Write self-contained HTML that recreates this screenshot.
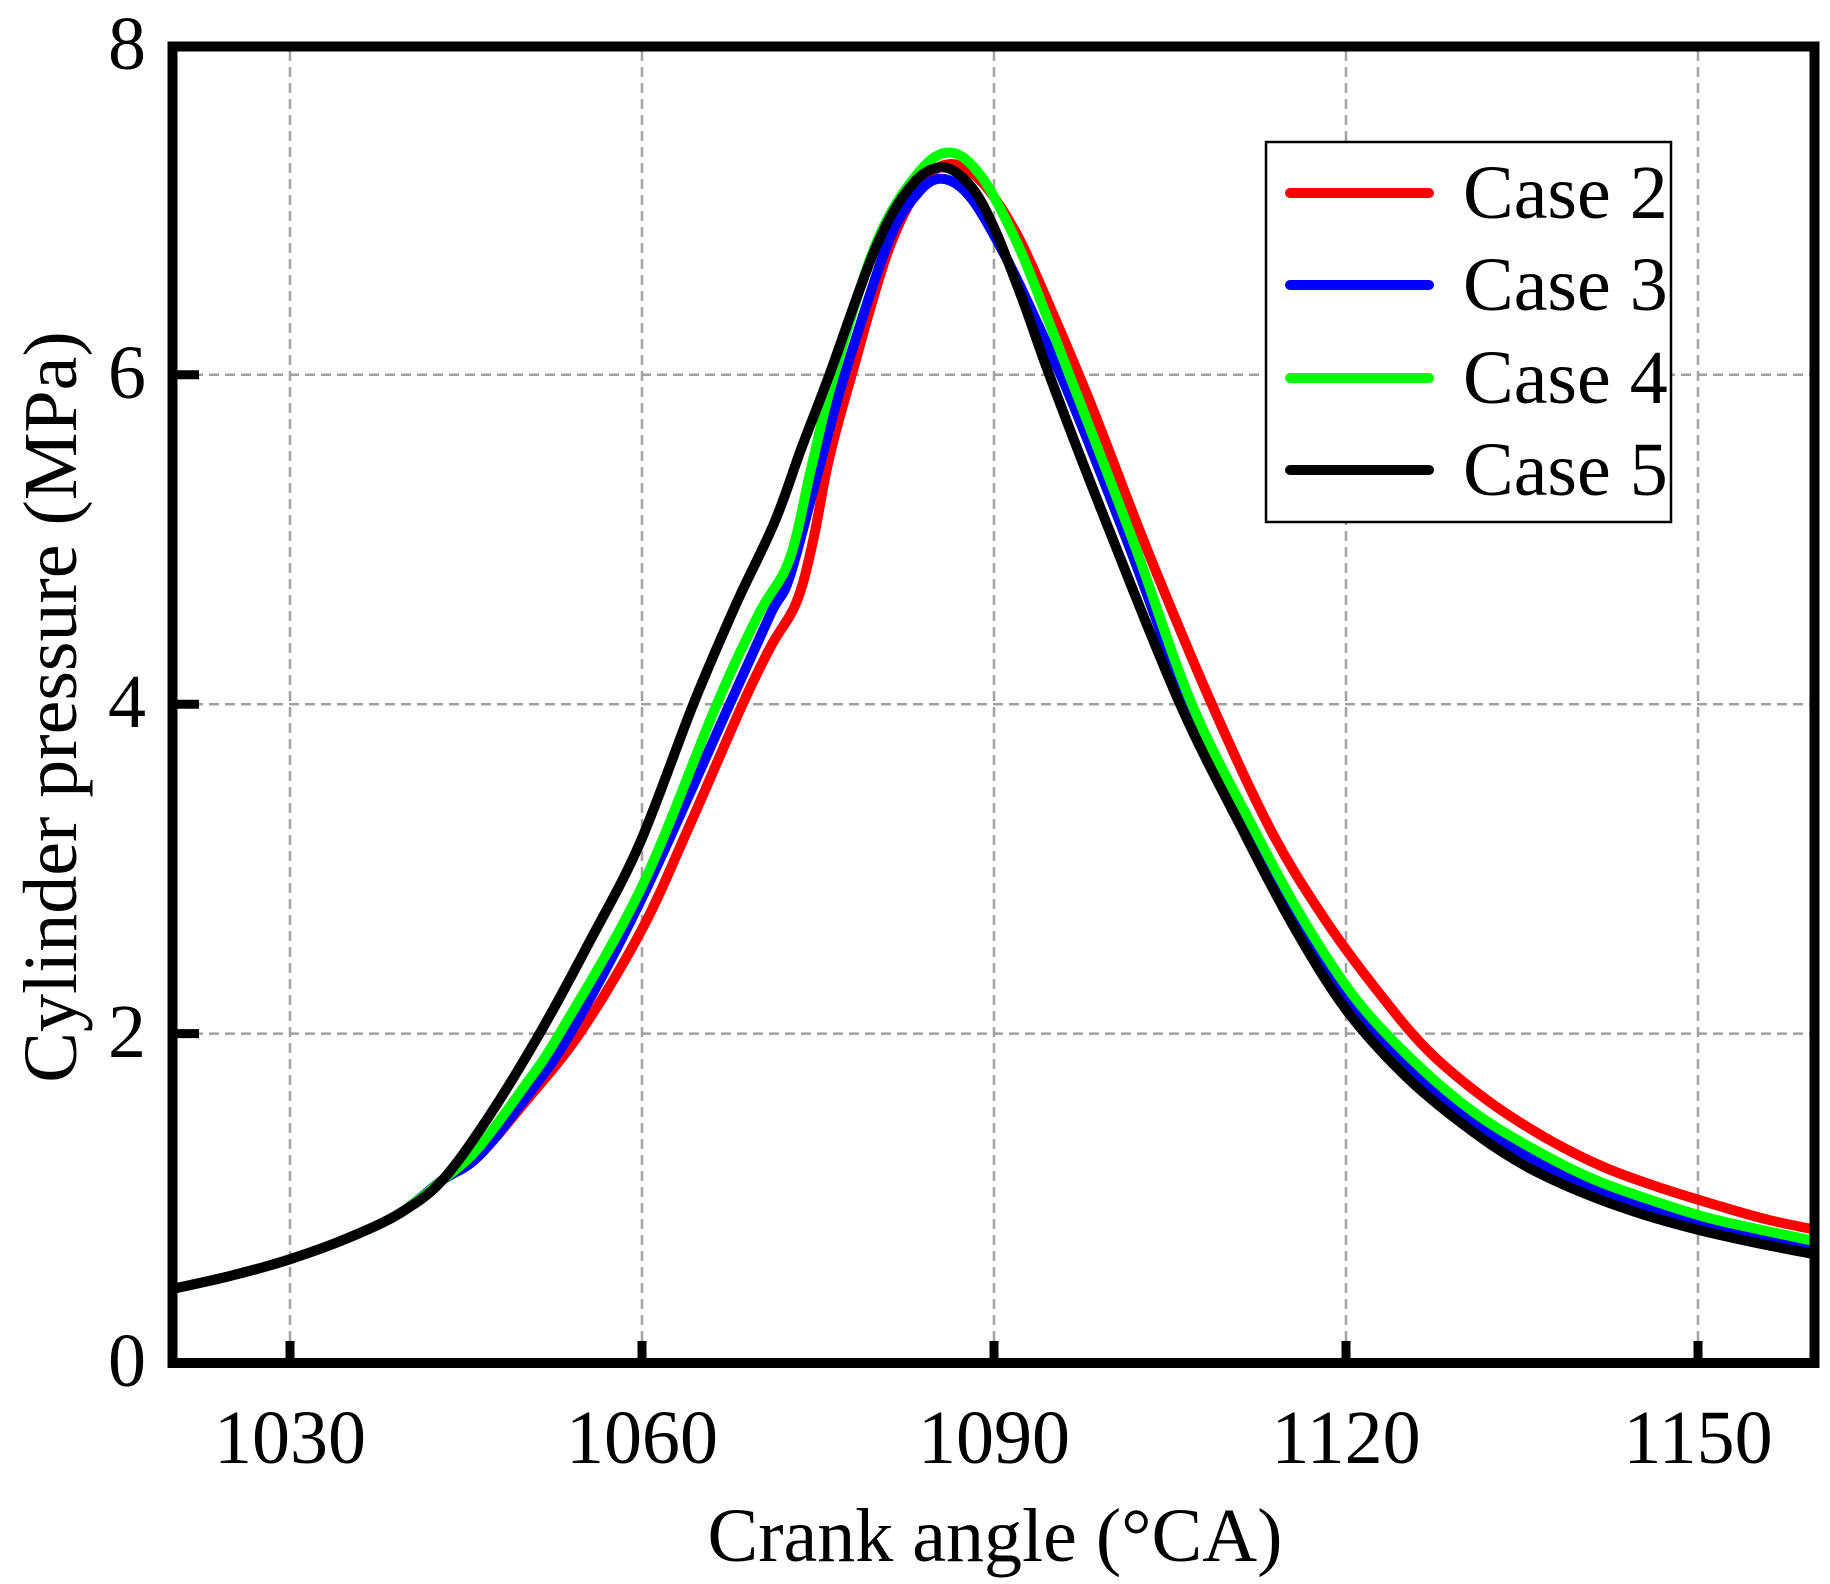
<!DOCTYPE html>
<html><head><meta charset="utf-8"><style>
html,body{margin:0;padding:0;background:#fff;}
svg{display:block;}
text{font-family:"Liberation Serif",serif;fill:#000;}
</style></head><body>
<svg id="s" width="1830" height="1584" viewBox="0 0 1830 1584" xmlns="http://www.w3.org/2000/svg">
<defs><clipPath id="c"><rect x="172" y="46" width="1642" height="1317"/></clipPath></defs>
<g stroke="#a0a0a0" stroke-width="2.5" stroke-dasharray="10,6" fill="none">
<line x1="290" y1="51" x2="290" y2="1358"/>
<line x1="642" y1="51" x2="642" y2="1358"/>
<line x1="994" y1="51" x2="994" y2="1358"/>
<line x1="1346" y1="51" x2="1346" y2="1358"/>
<line x1="1698" y1="51" x2="1698" y2="1358"/>
<line x1="177" y1="1033.6" x2="1810" y2="1033.6"/>
<line x1="177" y1="704.2" x2="1810" y2="704.2"/>
<line x1="177" y1="374.8" x2="1810" y2="374.8"/>
</g>
<g id="curves" clip-path="url(#c)" fill="none" stroke-width="10" stroke-linecap="round" stroke-linejoin="round"></g>
<g stroke="#000" stroke-width="9">
<line x1="290" y1="1363" x2="290" y2="1341"/>
<line x1="642" y1="1363" x2="642" y2="1341"/>
<line x1="994" y1="1363" x2="994" y2="1341"/>
<line x1="1346" y1="1363" x2="1346" y2="1341"/>
<line x1="1698" y1="1363" x2="1698" y2="1341"/>
<line x1="172" y1="1033.6" x2="199" y2="1033.6"/>
<line x1="172" y1="704.2" x2="199" y2="704.2"/>
<line x1="172" y1="374.8" x2="199" y2="374.8"/>
</g>
<rect x="172.5" y="46.5" width="1642" height="1316.5" fill="none" stroke="#000" stroke-width="10"/>
<rect x="1266" y="142" width="405" height="380" fill="#fff" stroke="#000" stroke-width="2.5"/>
<g stroke-width="10" stroke-linecap="round">
<line x1="1290" y1="193" x2="1429" y2="193" stroke="#ff0000"/>
<line x1="1290" y1="285" x2="1429" y2="285" stroke="#0000ff"/>
<line x1="1290" y1="378" x2="1429" y2="378" stroke="#00ff00"/>
<line x1="1290" y1="470" x2="1429" y2="470" stroke="#000"/>
</g>
<g font-size="76">
<text x="1463" y="218">Case 2</text>
<text x="1463" y="310">Case 3</text>
<text x="1463" y="403">Case 4</text>
<text x="1463" y="495">Case 5</text>
</g>
<g font-size="76" text-anchor="middle">
<text x="290" y="1463">1030</text>
<text x="642" y="1463">1060</text>
<text x="994" y="1463">1090</text>
<text x="1346" y="1463">1120</text>
<text x="1698" y="1463">1150</text>
</g>
<g font-size="76" text-anchor="end">
<text x="146" y="1386">0</text>
<text x="146" y="1057">2</text>
<text x="146" y="727">4</text>
<text x="146" y="398">6</text>
<text x="146" y="69">8</text>
</g>
<text x="995" y="1561" font-size="76" text-anchor="middle">Crank angle (°CA)</text>
<text transform="translate(76,707) rotate(-90)" font-size="76" text-anchor="middle">Cylinder pressure (MPa)</text>
</svg>
<script>
var common=[[1020,.45],[1025,.53],[1030,.63],[1035,.76],[1039.4,.91],[1043,1.11]];
var data={
"#ff0000":[[1046,1.25],[1050,1.58],[1054.7,2.0],[1060,2.63],[1064,3.25],[1068.6,4.0],[1071,4.35],[1073.2,4.62],[1074.6,4.99],[1076,5.5],[1077.9,6.0],[1081,6.75],[1083.8,7.15],[1086.3,7.28],[1089,7.17],[1092,6.85],[1095,6.38],[1098.3,5.82],[1103.2,4.92],[1108.6,4.0],[1113.6,3.24],[1118,2.72],[1122.5,2.28],[1127,1.9],[1132,1.6],[1137,1.37],[1142,1.19],[1147,1.06],[1152,0.95],[1156,0.87],[1160,0.81]],
"#0000ff":[[1046,1.25],[1050,1.6],[1053.9,2.0],[1060,2.82],[1067.5,4.0],[1071,4.55],[1072.6,4.77],[1075,5.4],[1077.3,6.0],[1081,6.8],[1083.5,7.1],[1085.6,7.19],[1088,7.08],[1091,6.72],[1093.5,6.35],[1096.6,5.85],[1101.6,4.95],[1106.6,4.0],[1111.8,3.22],[1116.5,2.6],[1121,2.12],[1126,1.75],[1131,1.46],[1136,1.24],[1141,1.07],[1146,0.94],[1151,0.84],[1156,0.76],[1160,0.69]],
"#00ff00":[[1046,1.3],[1050,1.68],[1053,2.0],[1060,2.89],[1066.4,4.0],[1070,4.55],[1072.6,4.88],[1074.5,5.45],[1076.4,6.0],[1080,6.8],[1083.5,7.22],[1086.3,7.35],[1089,7.2],[1092,6.8],[1094.5,6.36],[1097,5.9],[1102,4.97],[1106.9,4.0],[1112.2,3.24],[1116.5,2.68],[1121,2.2],[1126,1.82],[1131,1.52],[1136,1.3],[1141,1.12],[1146,0.99],[1151,0.88],[1156,0.8],[1160,0.74]],
"#000000":[[1047,1.5],[1051.3,2.0],[1055.5,2.55],[1059.8,3.15],[1064.4,4.0],[1068,4.6],[1071.3,5.1],[1073.6,5.55],[1076,6.0],[1080,6.78],[1083,7.15],[1085.6,7.26],[1088,7.15],[1090,6.9],[1092.5,6.45],[1094.9,5.97],[1099.9,5.05],[1105.9,4.0],[1111.2,3.24],[1115.5,2.66],[1120,2.15],[1125,1.75],[1130,1.45],[1135,1.21],[1140,1.04],[1145,0.91],[1150,0.81],[1155,0.73],[1160,0.66]]
};
function X(x){return 172.5+(x-1020)*11.73;}
function Y(v){return 1363-v*164.7;}
var g=document.getElementById('curves');
for(var col in data){
 var p=common.concat(data[col]).map(function(a){return [X(a[0]),Y(a[1])];});
 var d='M'+p[0][0].toFixed(1)+','+p[0][1].toFixed(1);
 for(var i=0;i<p.length-1;i++){
  var p0=p[i>0?i-1:i],p1=p[i],p2=p[i+1],p3=p[i+2<p.length?i+2:i+1];
  var c1x=p1[0]+(p2[0]-p0[0])/6,c1y=p1[1]+(p2[1]-p0[1])/6;
  var c2x=p2[0]-(p3[0]-p1[0])/6,c2y=p2[1]-(p3[1]-p1[1])/6;
  d+=' C'+c1x.toFixed(1)+','+c1y.toFixed(1)+' '+c2x.toFixed(1)+','+c2y.toFixed(1)+' '+p2[0].toFixed(1)+','+p2[1].toFixed(1);
 }
 var el=document.createElementNS('http://www.w3.org/2000/svg','path');
 el.setAttribute('d',d);el.setAttribute('stroke',col);
 g.appendChild(el);
}
</script>
</body></html>
